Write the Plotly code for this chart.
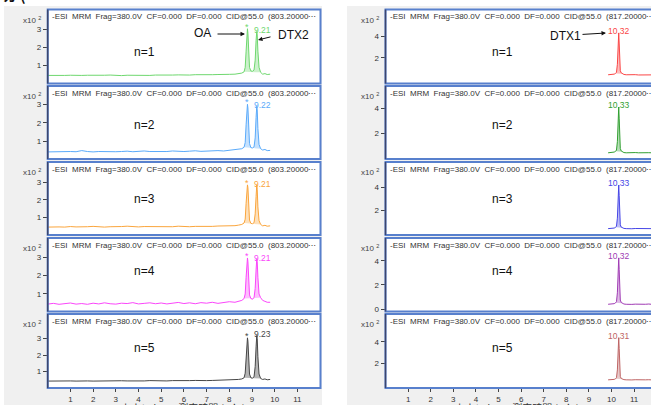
import plotly.graph_objects as go

W, H = 651, 405
def px(x): return x / W
def py(y): return 1 - y / H

# ---------------- data ----------------
t_left = [0.0, 0.25, 0.5, 0.75, 1.0, 1.25, 1.5, 1.75, 2.0, 2.25, 2.5, 2.75, 3.0, 3.25, 3.5, 3.75,
          4.0, 4.25, 4.5, 4.75, 5.0, 5.25, 5.5, 5.75, 6.0, 6.25, 6.5, 6.75, 7.0, 7.25, 7.5, 7.75,
          8.0, 8.25,
          8.4, 8.55, 8.65, 8.70, 8.74, 8.77, 8.80, 8.82, 8.85, 8.89, 8.95, 9.02, 9.09, 9.14,
          9.18, 9.21, 9.23, 9.26, 9.31, 9.38, 9.47, 9.57, 9.67, 9.8]

oa_n1 = [0.45, 0.44, 0.46, 0.45, 0.46, 0.44, 0.45, 0.46, 0.45, 0.44, 0.46, 0.47, 0.45, 0.44, 0.46, 0.45,
         0.47, 0.46, 0.45, 0.47, 0.46, 0.45, 0.47, 0.48, 0.46, 0.47, 0.49, 0.48, 0.47, 0.49, 0.50, 0.49,
         0.51, 0.52,
         0.55, 0.58, 0.65, 0.9, 1.8, 2.7, 3.05, 2.8, 1.7, 0.9, 0.7, 0.68, 0.75, 1.3,
         2.4, 2.9, 2.7, 1.8, 0.9, 0.62, 0.52, 0.55, 0.5, 0.52]
oa_n2 = [0.45, 0.46, 0.45, 0.50, 0.47, 0.46, 0.52, 0.47, 0.45, 0.47, 0.46, 0.48, 0.46, 0.47, 0.49, 0.46,
         0.48, 0.50, 0.47, 0.46, 0.49, 0.47, 0.50, 0.48, 0.47, 0.49, 0.51, 0.48, 0.50, 0.49, 0.52, 0.50,
         0.53, 0.55,
         0.58, 0.62, 0.7, 0.95, 1.9, 2.75, 3.0, 2.8, 1.7, 0.9, 0.68, 0.66, 0.72, 1.2,
         2.3, 2.9, 2.7, 1.7, 0.85, 0.62, 0.55, 0.58, 0.52, 0.53]
oa_n3 = [0.45, 0.47, 0.46, 0.45, 0.48, 0.46, 0.45, 0.47, 0.49, 0.46, 0.45, 0.47, 0.46, 0.48, 0.50, 0.47,
         0.46, 0.48, 0.47, 0.49, 0.46, 0.48, 0.47, 0.50, 0.48, 0.47, 0.49, 0.48, 0.50, 0.49, 0.51, 0.52,
         0.50, 0.53,
         0.56, 0.6, 0.68, 0.9, 1.8, 2.6, 2.85, 2.7, 1.6, 0.85, 0.66, 0.64, 0.7, 1.2,
         2.2, 2.85, 2.6, 1.6, 0.82, 0.6, 0.52, 0.55, 0.5, 0.52]
oa_n4 = [0.45, 0.49, 0.44, 0.47, 0.51, 0.45, 0.48, 0.44, 0.50, 0.46, 0.52, 0.47, 0.45, 0.50, 0.48, 0.53,
         0.46, 0.49, 0.52, 0.47, 0.51, 0.46, 0.50, 0.54, 0.48, 0.52, 0.47, 0.53, 0.50, 0.55, 0.49, 0.54,
         0.58, 0.55,
         0.6, 0.65, 0.75, 1.0, 1.9, 2.7, 2.95, 2.75, 1.7, 0.95, 0.75, 0.72, 0.8, 1.3,
         2.3, 2.9, 2.75, 1.9, 1.0, 0.8, 0.65, 0.6, 0.55, 0.55]
oa_n5 = [0.42, 0.43, 0.42, 0.44, 0.43, 0.42, 0.44, 0.43, 0.42, 0.43, 0.44, 0.42, 0.43, 0.44, 0.43, 0.42,
         0.44, 0.43, 0.45, 0.43, 0.44, 0.43, 0.45, 0.44, 0.43, 0.45, 0.46, 0.44, 0.45, 0.46, 0.47, 0.46,
         0.48, 0.50,
         0.52, 0.55, 0.62, 0.9, 1.9, 2.8, 3.05, 2.85, 1.7, 0.85, 0.62, 0.6, 0.68, 1.3,
         2.5, 3.2, 3.0, 1.9, 0.85, 0.58, 0.52, 0.55, 0.5, 0.52]

t_right = [9.85, 9.95, 10.05, 10.12, 10.18, 10.22, 10.26, 10.29, 10.31, 10.32, 10.34, 10.36, 10.39,
           10.43, 10.48, 10.55, 10.65, 10.75, 10.9, 11.05, 11.2, 11.35, 11.5, 11.65, 11.8]
dtx1_n1 = [0.42, 0.45, 0.43, 0.48, 0.55, 0.65, 1.4, 3.3, 4.25, 4.35, 3.4, 1.7, 0.8, 0.6, 0.52, 0.45,
           0.42, 0.44, 0.41, 0.43, 0.40, 0.42, 0.41, 0.43, 0.41]
dtx1_n2 = [0.40, 0.43, 0.41, 0.46, 0.52, 0.62, 1.3, 3.1, 4.0, 4.1, 3.2, 1.6, 0.75, 0.55, 0.48, 0.42,
           0.40, 0.42, 0.39, 0.42, 0.40, 0.42, 0.39, 0.41, 0.40]
dtx1_n3 = [0.45, 0.47, 0.46, 0.50, 0.56, 0.66, 1.35, 3.2, 4.1, 4.2, 3.3, 1.65, 0.78, 0.58, 0.52, 0.47,
           0.45, 0.47, 0.44, 0.46, 0.45, 0.47, 0.44, 0.46, 0.45]
dtx1_n4 = [0.40, 0.42, 0.41, 0.45, 0.52, 0.62, 1.35, 3.2, 4.15, 4.25, 3.3, 1.6, 0.75, 0.55, 0.48, 0.42,
           0.40, 0.42, 0.39, 0.41, 0.39, 0.41, 0.40, 0.42, 0.39]
dtx1_n5 = [0.48, 0.50, 0.48, 0.52, 0.58, 0.68, 1.4, 3.3, 4.3, 4.4, 3.4, 1.7, 0.8, 0.6, 0.55, 0.50,
           0.48, 0.50, 0.47, 0.49, 0.47, 0.50, 0.48, 0.49, 0.47]

left_series = [oa_n1, oa_n2, oa_n3, oa_n4, oa_n5]
right_series = [dtx1_n1, dtx1_n2, dtx1_n3, dtx1_n4, dtx1_n5]
run_labels = ["n=1", "n=2", "n=3", "n=4", "n=5"]
left_rt_labels = ["9.21", "9.22", "9.21", "9.21", "9.23"]
right_rt_labels = ["10.32", "10.33", "10.33", "10.32", "10.31"]
oa_rt = 8.80
x_ticks = [1, 2, 3, 4, 5, 6, 7, 8, 9, 10, 11]
left_header = "-ESI  MRM  Frag=380.0V  CF=0.000  DF=0.000  CID@55.0  (803.20000\u22ef"
right_header = "-ESI  MRM  Frag=380.0V  CF=0.000  DF=0.000  CID@55.0  (817.20000\u22ef"
x_title = "カウント vs. 測定時間 (min)"

# ---------------- styling / layout ----------------
left_colors = ['rgb(110,215,110)', 'rgb(90,170,250)', 'rgb(250,165,60)', 'rgb(250,70,250)', 'rgb(70,70,70)']
left_fills = ['rgba(110,215,110,0.35)', 'rgba(90,170,250,0.35)', 'rgba(250,165,60,0.35)',
              'rgba(250,70,250,0.35)', 'rgba(90,90,90,0.45)']
right_colors = ['rgb(250,70,70)', 'rgb(50,160,50)', 'rgb(70,70,230)', 'rgb(160,60,180)', 'rgb(190,100,100)']
right_fills = ['rgba(250,70,70,0.35)', 'rgba(50,160,50,0.35)', 'rgba(70,70,230,0.35)',
               'rgba(160,60,180,0.35)', 'rgba(190,100,100,0.35)']

panels_px = [(9.5, 83.5), (86, 159), (162, 235), (238, 311.5), (314, 388)]
n_label_y = [52, 125, 199, 271, 348]
left_yr = [[0, 4.12], [0.07, 3.98], [0, 4.15], [0.05, 4.03], [0, 4.5]]
right_yr = [[-0.4, 6.55], [-0.1, 5.8], [-0.1, 6.2], [-0.2, 5.9], [-0.28, 6.6]]
right_yticks = [[2, 4], [2, 4], [2, 4], [0, 2, 4], [2, 4]]

LX0, LX1 = 47.7, 320.5
RX0 = 385.5
left_xr = [0, (LX1 - LX0) / 22.7]
right_xr = [0, (W - RX0) / 22.6]

FONT = "Liberation Sans, Arial, sans-serif"
frame_col = 'rgb(88,128,205)'

fig = go.Figure()
layout = dict(width=W, height=H, margin=dict(l=0, r=0, t=0, b=0, autoexpand=False),
              paper_bgcolor='white', plot_bgcolor='rgba(0,0,0,0)', showlegend=False,
              font=dict(family=FONT, color='#222'))
shapes = []
annotations = []

# backgrounds
shapes.append(dict(type='rect', xref='paper', yref='paper', x0=px(4), x1=px(322), y0=py(405), y1=py(6),
                   fillcolor='rgb(240,240,240)', line=dict(width=0), layer='below'))
shapes.append(dict(type='rect', xref='paper', yref='paper', x0=px(347), x1=px(660), y0=py(405), y1=py(6),
                   fillcolor='rgb(240,240,240)', line=dict(width=0), layer='below'))

for i in range(10):
    side, k = divmod(i, 5)
    top, bot = panels_px[k]
    n = i + 1
    xname = 'xaxis' if n == 1 else f'xaxis{n}'
    yname = 'yaxis' if n == 1 else f'yaxis{n}'
    if side == 0:
        xd = [px(LX0), px(LX1)]
        xr = left_xr
        yr = left_yr[k]
        yt = [1, 2, 3]
        t, v = t_left, left_series[k]
        col, fcol = left_colors[k], left_fills[k]
        fx0, fx1 = LX0, LX1
        sl = slice(36, 54)
    else:
        xd = [px(RX0), 1]
        xr = right_xr
        yr = right_yr[k]
        yt = right_yticks[k]
        t, v = t_right, right_series[k]
        col, fcol = right_colors[k], right_fills[k]
        fx0, fx1 = RX0, 660
        sl = slice(4, 15)

    # white panel background
    shapes.append(dict(type='rect', xref='paper', yref='paper', x0=px(fx0), x1=px(fx1),
                       y0=py(bot), y1=py(top), fillcolor='white', line=dict(width=0), layer='below'))
    # frame
    shapes.append(dict(type='rect', xref='paper', yref='paper', x0=px(fx0), x1=px(fx1),
                       y0=py(bot), y1=py(top), fillcolor='rgba(0,0,0,0)',
                       line=dict(color=frame_col, width=2), layer='above'))
    # dark y-axis line
    shapes.append(dict(type='line', xref='paper', yref='paper', x0=px(fx0), x1=px(fx0),
                       y0=py(bot), y1=py(top), line=dict(color='rgb(60,70,110)', width=1.5), layer='above'))

    layout[xname] = dict(domain=xd, range=xr, anchor=f'y{n}', showgrid=False, zeroline=False,
                         showline=False, tickvals=x_ticks, automargin=False,
                         ticks='outside' if k == 4 else '', showticklabels=(k == 4),
                         ticklen=3, tickcolor='#444', tickfont=dict(size=8, color='#333', family=FONT))
    layout[yname] = dict(domain=[py(bot), py(top)], range=yr, anchor=f'x{n}', showgrid=False,
                         zeroline=False, showline=False, tickvals=yt, ticks='outside', ticklen=4,
                         automargin=False,
                         tickcolor='#444', tickfont=dict(size=8, color='#333', family=FONT))

    # fill under peaks
    fig.add_trace(go.Scatter(x=t[sl], y=v[sl], mode='lines', fill='toself', fillcolor=fcol,
                             line=dict(width=0), xaxis=f'x{n}', yaxis=f'y{n}', hoverinfo='skip'))
    fig.add_trace(go.Scatter(x=t, y=v, mode='lines', line=dict(color=col, width=1),
                             xaxis=f'x{n}', yaxis=f'y{n}'))

    # header text
    annotations.append(dict(xref='paper', yref='paper', x=px(fx0 + 2), y=py(top + 7),
                            xanchor='left', yanchor='middle', showarrow=False,
                            text=left_header if side == 0 else right_header,
                            font=dict(size=8, color='#333', family=FONT)))
    # x10^2
    annotations.append(dict(xref='paper', yref='paper', x=px(fx0 - 27), y=py(top + 10),
                            xanchor='left', yanchor='middle', showarrow=False,
                            text="x10 <sup>2</sup>", font=dict(size=8, color='#444', family=FONT)))
    # n= label
    annotations.append(dict(xref='paper', yref='paper', x=px(144 if side == 0 else 503),
                            y=py(n_label_y[k]), xanchor='center', yanchor='middle', showarrow=False,
                            text=run_labels[k], font=dict(size=12, color='#111', family=FONT)))
    # peak labels
    if side == 0:
        i1 = t.index(oa_rt)
        annotations.append(dict(xref=f'x{n}', yref=f'y{n}', x=oa_rt, y=v[i1], xanchor='center',
                                yanchor='middle', yshift=2, showarrow=False, text='*',
                                font=dict(size=9, color=col, family=FONT)))
        i2 = t.index(9.21)
        annotations.append(dict(xref=f'x{n}', yref=f'y{n}', x=9.21, y=v[i2], xanchor='left',
                                xshift=-5, yanchor='middle', yshift=1, showarrow=False,
                                text=left_rt_labels[k], font=dict(size=8.5, color=col, family=FONT)))
    else:
        ip = t.index(10.32)
        annotations.append(dict(xref=f'x{n}', yref=f'y{n}', x=10.32, y=v[ip], xanchor='center',
                                yanchor='middle', yshift=2, showarrow=False,
                                text=right_rt_labels[k], font=dict(size=8.5, color=col, family=FONT)))

# compound labels with arrows
def arrow(head, tail):
    return dict(xref='paper', yref='paper', x=px(head[0]), y=py(head[1]), axref='pixel', ayref='pixel',
                ax=tail[0] - head[0], ay=tail[1] - head[1], text='', showarrow=True,
                arrowhead=2, arrowsize=0.9, arrowwidth=1, arrowcolor='#111')

def label(text, cx, cy):
    return dict(xref='paper', yref='paper', x=px(cx), y=py(cy), text=text, showarrow=False,
                xanchor='center', yanchor='middle', font=dict(size=12, color='#111', family=FONT))

annotations.append(label('OA', 202, 33.5))
annotations.append(arrow((245, 34), (216, 34)))
annotations.append(label('DTX2', 293, 35))
annotations.append(arrow((258, 40), (272, 36.5)))
annotations.append(label('DTX1', 565, 35.5))
annotations.append(arrow((606, 33), (581, 34.5)))

# x-axis titles (cut off at the bottom edge)
for cx in (183, 517):
    annotations.append(dict(xref='paper', yref='paper', x=px(cx), y=py(397.5), xanchor='center',
                            yanchor='top', showarrow=False, text=x_title,
                            font=dict(size=10, color='#333', family="Noto Sans CJK JP, sans-serif")))
# partially visible heading at top-left
annotations.append(dict(xref='paper', yref='paper', x=px(1), y=py(7), xanchor='left', yanchor='bottom',
                        showarrow=False, text='<b>ガ (</b>',
                        font=dict(size=14, color='#111', family="Noto Sans CJK JP, sans-serif")))

layout['shapes'] = shapes
layout['annotations'] = annotations
fig.update_layout(**layout)
fig.write_html("out.html", config={'displayModeBar': False},
               post_script="document.body.style.margin='0px';document.body.style.overflow='hidden';")
